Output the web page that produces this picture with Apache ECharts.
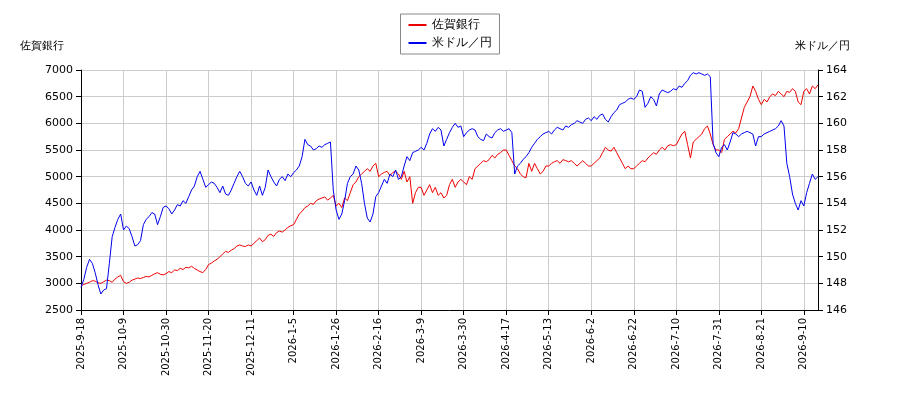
<!DOCTYPE html>
<html><head><meta charset="utf-8">
<script src="https://cdn.jsdelivr.net/npm/echarts@6/dist/echarts.min.js"></script>
<style>html,body{margin:0;padding:0;background:#fff}#c{width:900px;height:400px}</style>
</head><body><div id="c"></div>
<script>
const tickLabels=['2025-9-18','2025-10-9','2025-10-30','2025-11-20','2025-12-11','2026-1-5','2026-1-26','2026-2-16','2026-3-9','2026-3-30','2026-4-17','2026-5-13','2026-6-2','2026-6-22','2026-7-10','2026-7-31','2026-8-21','2026-9-10'];
const bank=[
2950,2980,3000,3020,3050,3040,3010,3000,3030,3060,3050,3020,3080,3120,3150,
3030,3000,3020,3060,3080,3100,3090,3110,3130,3120,3150,3180,3200,3170,3160,
3180,3220,3200,3250,3240,3280,3260,3300,3290,3320,3280,3250,3220,3200,3260,
3350,3380,3420,3450,3500,3550,3600,3580,3620,3650,3700,3720,3700,3690,3720,
3700,3750,3800,3850,3780,3820,3900,3920,3880,3950,3980,3960,4000,4050,4080,
4100,4200,4300,4350,4420,4450,4500,4480,4550,4580,4600,4620,4560,4600,4650,
4450,4500,4420,4600,4550,4700,4850,4900,5000,5050,5100,5150,5100,5200,5250,
5000,5050,5080,5100,5020,5080,5100,5050,4950,5100,4900,5000,4500,4700,4800,
4800,4650,4750,4850,4700,4800,4650,4700,4600,4650,4850,4950,4800,4900,4950,
4900,4850,5000,4950,5150,5200,5250,5300,5280,5320,5400,5350,5420,5450,5500,
5500,5400,5300,5200,5150,5050,5000,4980,5250,5100,5250,5150,5050,5100,5200,
5200,5250,5280,5300,5250,5320,5300,5280,5300,5250,5200,5250,5300,5250,5200,
5200,5250,5300,5350,5450,5550,5500,5480,5550,5450,5350,5250,5150,5200,5150,
5150,5200,5250,5300,5280,5350,5400,5450,5420,5500,5550,5500,5580,5600,5580,
5600,5700,5800,5850,5600,5350,5650,5700,5750,5800,5900,5950,5800,5600,5500,
5500,5450,5700,5750,5800,5850,5820,5900,6100,6300,6400,6500,6700,6600,6450,
6350,6450,6400,6500,6550,6520,6600,6550,6500,6600,6580,6650,6600,6400,6350,
6600,6650,6550,6700,6650,6720];
const usdjpy=[
147.7,148.3,149.2,149.8,149.5,148.8,147.9,147.2,147.5,147.6,149.5,151.5,152.2,152.8,153.2,
152.0,152.3,152.1,151.5,150.8,150.9,151.2,152.4,152.8,153.0,153.3,153.2,152.4,153.0,153.7,
153.8,153.6,153.2,153.5,153.9,153.8,154.2,154.0,154.5,155.0,155.3,156.0,156.4,155.8,155.2,
155.4,155.6,155.5,155.2,154.8,155.3,154.7,154.6,155.0,155.5,156.0,156.4,156.0,155.5,155.3,
155.6,155.0,154.6,155.3,154.6,155.2,156.5,156.0,155.6,155.3,155.8,156.0,155.7,156.2,156.0,
156.3,156.5,156.8,157.5,158.8,158.4,158.3,158.0,158.1,158.3,158.2,158.4,158.5,158.6,155.0,
153.5,152.8,153.2,154.2,155.5,156.0,156.2,156.8,156.5,155.5,154.0,152.9,152.6,153.2,154.5,
154.8,155.3,155.8,155.5,156.2,156.0,156.5,155.8,156.0,156.8,157.5,157.2,157.8,157.9,158.0,
158.2,158.0,158.5,159.2,159.6,159.4,159.7,159.5,158.3,158.8,159.3,159.7,160.0,159.7,159.8,
159.0,159.3,159.5,159.6,159.5,159.0,158.8,158.7,159.2,159.0,158.9,159.3,159.5,159.6,159.4,
159.5,159.6,159.3,156.2,156.8,157.0,157.3,157.5,157.8,158.2,158.5,158.8,159.0,159.2,159.3,
159.4,159.2,159.5,159.7,159.6,159.5,159.8,159.7,159.9,160.0,160.2,160.1,160.0,160.3,160.4,
160.2,160.5,160.3,160.6,160.7,160.3,160.1,160.5,160.8,161.0,161.4,161.5,161.6,161.8,161.9,
161.8,162.0,162.5,162.4,161.2,161.5,162.0,161.8,161.3,162.2,162.5,162.4,162.3,162.4,162.6,
162.5,162.8,162.7,163.0,163.2,163.6,163.8,163.7,163.8,163.7,163.6,163.7,163.5,158.5,157.8,
157.5,158.2,158.4,158.0,158.6,159.3,159.2,159.0,159.2,159.3,159.4,159.3,159.2,158.3,159.0,
159.0,159.2,159.3,159.4,159.5,159.6,159.8,160.2,159.8,157.0,156.0,154.7,154.0,153.5,154.2,
153.8,154.8,155.5,156.2,155.8,156.0];
const categories=[];
for(let i=0;i<bank.length;i++){const s=Math.floor(i/15),k=i%15;categories.push(k===0&&tickLabels[s]?tickLabels[s]:(tickLabels[s]||'x')+'+'+k);}
const chart=echarts.init(document.getElementById('c'));
const ax={color:'#000',fontSize:11,fontFamily:'DejaVu Sans'};
chart.setOption({
 animation:false,
 legend:{top:14,left:'center',orient:'vertical',itemWidth:18,itemHeight:2,icon:'rect',borderColor:'#888',borderWidth:1,borderRadius:0,padding:[5,8],itemGap:6,textStyle:{fontSize:12,color:'#000'},
  data:['佐賀銀行','米ドル／円']},
 graphic:[
  {type:'text',left:20,top:40,style:{text:'佐賀銀行',fontSize:11,fill:'#000'}},
  {type:'text',right:50,top:40,style:{text:'米ドル／円',fontSize:11,fill:'#000'}}],
 grid:{left:81,right:82,top:70,bottom:90},
 xAxis:{type:'category',data:categories,boundaryGap:false,
  axisLine:{lineStyle:{color:'#000'}},axisTick:{interval:14,lineStyle:{color:'#000'}},
  axisLabel:Object.assign({interval:14,rotate:90},ax,{fontSize:10}),
  splitLine:{show:true,interval:14,lineStyle:{color:'#ccc'}}},
 yAxis:[
  {type:'value',min:2500,max:7000,interval:500,
   axisLine:{show:true,lineStyle:{color:'#000'}},axisTick:{show:true},axisLabel:Object.assign({formatter:v=>String(v)},ax),splitLine:{lineStyle:{color:'#ccc'}}},
  {type:'value',min:146,max:164,interval:2,
   axisLine:{show:true,lineStyle:{color:'#000'}},axisTick:{show:true},axisLabel:ax,splitLine:{show:false}}],
 series:[
  {name:'佐賀銀行',type:'line',data:bank,yAxisIndex:0,symbol:'none',lineStyle:{color:'#e00',width:1},itemStyle:{color:'#e00'}},
  {name:'米ドル／円',type:'line',data:usdjpy,yAxisIndex:1,symbol:'none',lineStyle:{color:'#00e',width:1},itemStyle:{color:'#00e'}}]
});
</script></body></html>
